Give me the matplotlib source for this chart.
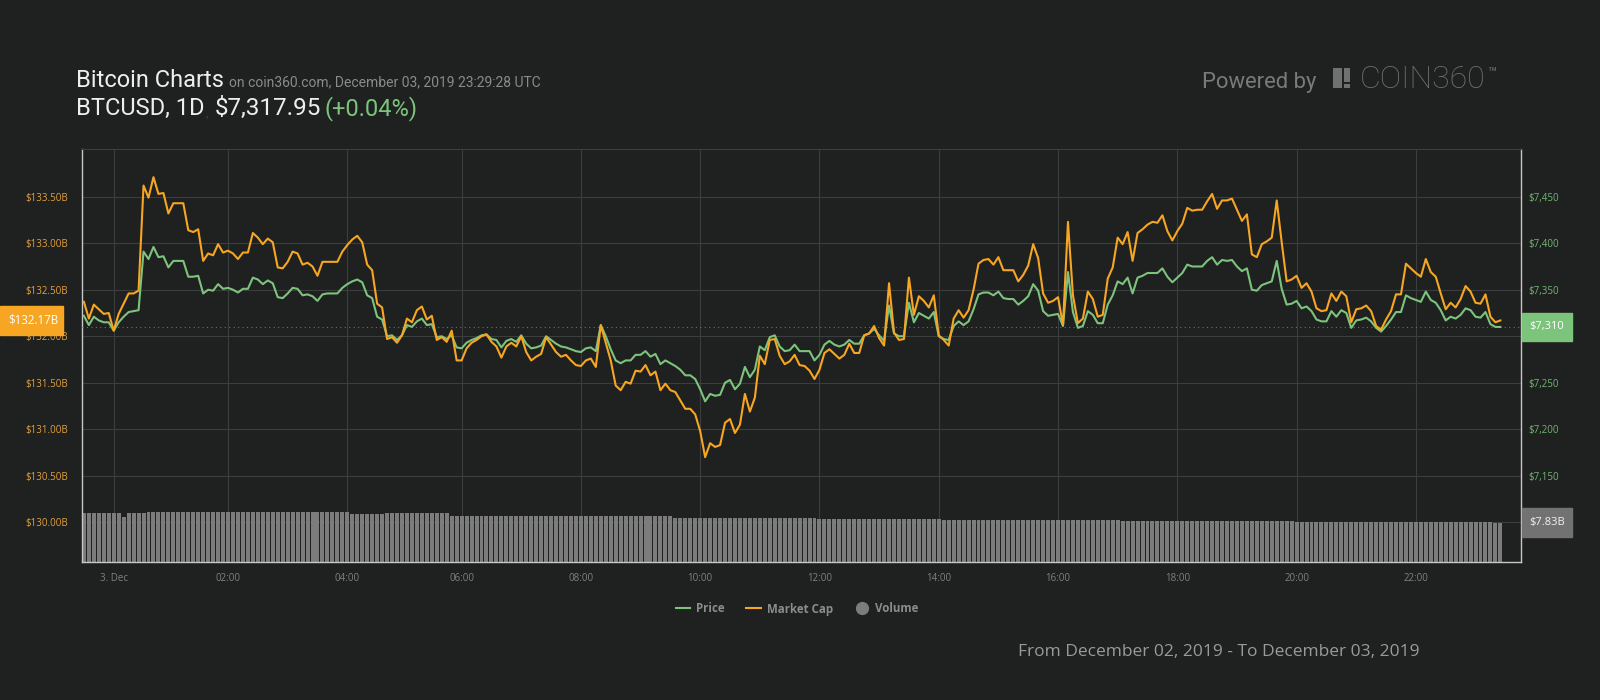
import numpy as np
import pandas as pd
import matplotlib
matplotlib.use("Agg")
import matplotlib.pyplot as plt
import matplotlib.transforms as mtransforms
from matplotlib.patches import Rectangle
from matplotlib.lines import Line2D

# ---------------- data ----------------
CAP_B = [
    132.37, 132.19, 132.34, 132.29, 132.24, 132.25, 132.06, 132.24, 132.35, 132.46,
    132.46, 132.49, 133.62, 133.49, 133.71, 133.53, 133.54, 133.32, 133.43, 133.43,
    133.43, 133.14, 133.12, 133.15, 132.81, 132.89, 132.87, 132.99, 132.90, 132.92,
    132.89, 132.83, 132.90, 132.90, 133.11, 133.06, 132.99, 133.05, 133.01, 132.74,
    132.73, 132.80, 132.91, 132.89, 132.77, 132.79, 132.75, 132.65, 132.80,
    132.80, 132.80, 132.80, 132.91, 132.98, 133.04, 133.08, 133.01, 132.77, 132.71,
    132.35, 132.31, 131.97, 131.99, 131.93, 132.01, 132.19, 132.15, 132.28, 132.32,
    132.18, 132.22, 131.96, 131.99, 131.94, 132.06, 131.74, 131.74, 131.87, 131.93,
    131.96, 132.00, 132.02, 131.94, 131.89, 131.77, 131.89, 131.93, 131.89, 132.00,
    131.83, 131.74, 131.78, 131.81, 131.99, 131.91, 131.83, 131.78,
    131.80, 131.74, 131.69, 131.68, 131.74, 131.76, 131.67, 132.12, 131.93, 131.74,
    131.47, 131.42, 131.51, 131.49, 131.63, 131.62, 131.69, 131.58, 131.62, 131.42,
    131.49, 131.42, 131.40, 131.31, 131.22, 131.22, 131.16, 130.98, 130.70, 130.85,
    130.81, 130.83, 131.07, 131.11, 130.96, 131.05, 131.38, 131.19, 131.34, 131.79,
    131.70, 131.96, 131.97, 131.79, 131.70, 131.73, 131.80, 131.69, 131.68,
    131.63, 131.54, 131.64, 131.82, 131.86, 131.81, 131.76, 131.80, 131.92, 131.82,
    131.82, 132.01, 132.03, 132.11, 131.98, 131.90, 132.57, 132.04, 131.96, 131.97,
    132.63, 132.23, 132.43, 132.38, 132.31, 132.44, 132.01, 131.96, 131.90, 132.19,
    132.28, 132.20, 132.28, 132.50, 132.78, 132.82, 132.83, 132.77, 132.85, 132.71,
    132.71, 132.71, 132.59, 132.66, 132.76, 132.99, 132.84, 132.46,
    132.36, 132.38, 132.42, 132.12, 133.23, 132.44, 132.14, 132.19, 132.48, 132.40,
    132.21, 132.23, 132.62, 132.74, 133.06, 132.99, 133.12, 132.81, 133.11, 133.15,
    133.20, 133.23, 133.22, 133.30, 133.13, 133.03, 133.13, 133.21, 133.38, 133.35,
    133.36, 133.36, 133.45, 133.53, 133.37, 133.46, 133.46, 133.48, 133.36, 133.24,
    133.31, 132.88, 132.85, 132.99, 133.02, 133.06, 133.46, 133.01,
    132.59, 132.61, 132.65, 132.52, 132.57, 132.48, 132.30, 132.27, 132.28, 132.46,
    132.38, 132.48, 132.43, 132.15, 132.29, 132.30, 132.33, 132.27, 132.11, 132.07,
    132.18, 132.27, 132.45, 132.45, 132.78, 132.73, 132.68, 132.64, 132.83, 132.69,
    132.64, 132.46, 132.29, 132.36, 132.31, 132.40, 132.54, 132.48, 132.36, 132.35,
    132.45, 132.21, 132.15, 132.17,
]

PRICE_USD = [
    7322, 7312, 7321, 7317, 7315, 7315, 7306, 7315, 7321, 7326,
    7327, 7328, 7391, 7383, 7396, 7385, 7386, 7374, 7381, 7381,
    7381, 7364, 7364, 7365, 7346, 7350, 7349, 7356, 7351, 7352,
    7350, 7347, 7351, 7351, 7363, 7361, 7356, 7360, 7357, 7342,
    7341, 7346, 7352, 7351, 7344, 7345, 7343, 7338, 7345,
    7346, 7346, 7346, 7352, 7356, 7359, 7361, 7358, 7344, 7341,
    7321, 7318, 7300, 7301, 7296, 7301, 7312, 7310, 7316, 7319,
    7312, 7313, 7299, 7300, 7297, 7301, 7288, 7287, 7293, 7296,
    7298, 7301, 7302, 7297, 7296, 7288, 7295, 7297, 7294, 7301,
    7292, 7287, 7288, 7290, 7300, 7296, 7292, 7289,
    7288, 7286, 7284, 7283, 7287, 7288, 7284, 7312, 7300, 7286,
    7274, 7271, 7274, 7274, 7280, 7280, 7284, 7278, 7281, 7270,
    7274, 7271, 7268, 7264, 7258, 7258, 7254, 7243, 7230, 7238,
    7236, 7237, 7250, 7253, 7243, 7249, 7267, 7256, 7264, 7289,
    7285, 7299, 7301, 7289, 7284, 7285, 7291, 7284, 7284,
    7284, 7274, 7280, 7291, 7295, 7291, 7289, 7291, 7296, 7292,
    7292, 7301, 7303, 7308, 7301, 7295, 7333, 7303, 7300, 7300,
    7336, 7315, 7325, 7322, 7319, 7326, 7300, 7297, 7296, 7311,
    7316, 7312, 7316, 7329, 7345, 7347, 7347, 7344, 7348, 7341,
    7340, 7340, 7334, 7338, 7343, 7356, 7349, 7327,
    7322, 7323, 7324, 7311, 7369, 7326, 7309, 7311, 7327, 7323,
    7314, 7314, 7334, 7344, 7359, 7356, 7363, 7346, 7363, 7365,
    7368, 7368, 7368, 7373, 7364, 7358, 7363, 7368, 7377, 7375,
    7375, 7375, 7381, 7385, 7377, 7382, 7381, 7382, 7375, 7370,
    7373, 7350, 7349, 7355, 7357, 7359, 7381, 7351,
    7334, 7335, 7338, 7330, 7332, 7327, 7318, 7316, 7316, 7327,
    7321, 7328, 7325, 7309, 7317, 7318, 7320, 7316, 7309, 7305,
    7311, 7318, 7326, 7326, 7344, 7341, 7339, 7337, 7348, 7339,
    7336, 7328, 7317, 7321, 7319, 7323, 7330, 7328, 7321, 7320,
    7326, 7313, 7310, 7310,
]

VOLUME_B = [
    9.70, 9.70, 9.70, 9.70, 9.70, 9.70, 9.70, 9.70, 9.03, 9.70, 9.70, 9.70, 9.70, 9.90, 9.90, 9.90, 9.90, 9.90, 9.90, 9.90,
    9.90, 9.90, 9.90, 9.90, 9.90, 9.90, 9.90, 9.90, 9.90, 9.90, 9.90, 9.90, 9.90, 9.90, 9.90, 9.90, 9.90, 9.90, 9.90, 9.90,
    9.90, 9.90, 9.90, 9.90, 9.90, 9.90, 9.90, 9.90, 9.90, 9.90, 9.90, 9.90, 9.90, 9.90, 9.63, 9.63, 9.63, 9.63, 9.63, 9.63,
    9.63, 9.83, 9.83, 9.83, 9.83, 9.83, 9.83, 9.83, 9.83, 9.83, 9.83, 9.83, 9.83, 9.83, 9.20, 9.20, 9.20, 9.20, 9.20, 9.20,
    9.20, 9.20, 9.20, 9.20, 9.20, 9.20, 9.20, 9.20, 9.20, 9.20, 9.20, 9.20, 9.20, 9.20, 9.20, 9.20, 9.20, 9.20, 9.20, 9.20,
    9.20, 9.20, 9.20, 9.20, 9.20, 9.20, 9.20, 9.20, 9.20, 9.20, 9.20, 9.20, 9.20, 9.20, 9.20, 9.20, 9.20, 9.20, 9.20, 8.77,
    8.77, 8.77, 8.77, 8.77, 8.77, 8.77, 8.77, 8.77, 8.77, 8.77, 8.77, 8.77, 8.77, 8.77, 8.77, 8.77, 8.77, 8.77, 8.77, 8.77,
    8.77, 8.77, 8.77, 8.77, 8.77, 8.77, 8.77, 8.77, 8.47, 8.47, 8.47, 8.47, 8.47, 8.47, 8.47, 8.47, 8.47, 8.47, 8.47, 8.47,
    8.47, 8.47, 8.47, 8.47, 8.47, 8.47, 8.47, 8.47, 8.47, 8.47, 8.47, 8.47, 8.47, 8.27, 8.27, 8.27, 8.27, 8.27, 8.27, 8.27,
    8.27, 8.27, 8.27, 8.27, 8.27, 8.27, 8.27, 8.27, 8.27, 8.27, 8.27, 8.27, 8.27, 8.27, 8.27, 8.27, 8.27, 8.27, 8.27, 8.27,
    8.27, 8.27, 8.27, 8.27, 8.27, 8.27, 8.27, 8.27, 8.27, 8.10, 8.10, 8.10, 8.10, 8.10, 8.10, 8.10, 8.10, 8.10, 8.10, 8.10,
    8.10, 8.10, 8.10, 8.10, 8.10, 8.10, 8.10, 8.10, 8.10, 8.10, 8.10, 8.10, 8.10, 8.10, 8.10, 8.10, 8.10, 8.10, 8.10, 8.10,
    8.10, 8.10, 8.10, 8.10, 7.92, 7.92, 7.92, 7.92, 7.92, 7.92, 7.92, 7.92, 7.92, 7.92, 7.92, 7.92, 7.92, 7.92, 7.92, 7.92,
    7.92, 7.92, 7.92, 7.92, 7.92, 7.92, 7.92, 7.92, 7.92, 7.92, 7.92, 7.92, 7.92, 7.92, 7.92, 7.92, 7.92, 7.92, 7.92, 7.92,
    8.05, 8.05, 8.05, 8.05, 7.86, 7.83,
]

# 5-minute samples; two samples are absent in the feed (ordinal axis, as in the reference)
TIMES = pd.date_range("2019-12-02 23:30", "2019-12-03 23:25", freq="5min")
MISSING_TIMES = pd.to_datetime(["2019-12-03 00:55", "2019-12-03 04:40"])
TIMES = TIMES.drop(MISSING_TIMES)
TICK_TIMES = pd.date_range("2019-12-03 00:00", "2019-12-03 22:00", freq="2h")
TICK_LABELS = ["3. Dec", "02:00", "04:00", "06:00", "08:00", "10:00",
               "12:00", "14:00", "16:00", "18:00", "20:00", "22:00"]
CAP_TICKS = [130.0, 130.5, 131.0, 131.5, 132.0, 132.5, 133.0, 133.5]
PRICE_TICKS = [7150, 7200, 7250, 7300, 7350, 7400, 7450]
LAST_CAP = 132.17
LAST_PRICE = 7310
LAST_VOLUME = 7.83

assert len(CAP_B) == len(PRICE_USD) == len(VOLUME_B) == len(TIMES)

# ---------------- style ----------------
BG = "#1f2020"
GRID = "#3c3d3d"
AXLINE = "#c8c8c8"
GREEN = "#7cc47c"
ORANGE = "#f6a623"
VOLC = "#7c7c7c"
W, H = 1600, 700
FONT = "Open Sans"
HFONT = "Roboto"

fig = plt.figure(figsize=(W / 100, H / 100), dpi=100, facecolor=BG)
pix = mtransforms.Affine2D().scale(1.0 / W, -1.0 / H).translate(0, 1) + fig.transFigure

L, R, T, B = 82, 1521, 149, 562
rect = [L / W, 1 - B / H, (R - L) / W, (B - T) / H]

ax_vol = fig.add_axes(rect, zorder=1)
ax_price = fig.add_axes(rect, zorder=2, sharex=ax_vol)
ax_cap = fig.add_axes(rect, zorder=3, sharex=ax_vol)
ax_vol.set_facecolor(BG)
for a in (ax_price, ax_cap):
    a.set_facecolor("none")
    for s in a.spines.values():
        s.set_visible(False)

x = np.arange(len(TIMES))
tick_idx = TIMES.get_indexer(TICK_TIMES)

ax_vol.set_xlim(-0.38, 289.15)
cap_lim = (129.573, 134.013)
price_lim = (7057.3, 7501.3)
vol_lim = (0, 82.3)
ax_cap.set_ylim(*cap_lim)
ax_price.set_ylim(*price_lim)
ax_vol.set_ylim(*vol_lim)

# grid (below volume bars)
hgrid_tr = mtransforms.blended_transform_factory(ax_vol.transAxes, ax_cap.transData)
for v in CAP_TICKS:
    ax_vol.plot([0, 1], [v, v], transform=hgrid_tr, color=GRID, lw=0.8, zorder=0)
ax_vol.set_xticks(tick_idx)
ax_vol.set_xticklabels(TICK_LABELS)
ax_vol.grid(axis="x", color=GRID, lw=0.8, zorder=0)
ax_vol.set_axisbelow(True)
ax_vol.set_yticks([])

# volume bars
ax_vol.bar(x, VOLUME_B, width=0.8, color=VOLC, linewidth=0, zorder=2)

# spines
for side in ("left", "bottom", "right"):
    ax_vol.spines[side].set_color(AXLINE)
    ax_vol.spines[side].set_linewidth(1.0)
ax_vol.spines["top"].set_color(GRID)
ax_vol.spines["top"].set_linewidth(0.8)

ax_vol.tick_params(axis="x", length=0, pad=8, labelsize=7, labelcolor="#808080")
for lab in ax_vol.get_xticklabels():
    lab.set_fontfamily(FONT)

# price line (right axis)
ax_price.plot(x, PRICE_USD, color=GREEN, lw=1.5, solid_joinstyle="round", zorder=3)
ax_price.axhline(LAST_PRICE, color="#6f6f6f", lw=0.8, ls=(0, (1, 3)), zorder=2)
ax_price.yaxis.tick_right()
ax_price.set_yticks(PRICE_TICKS)
ax_price.set_yticklabels([f"${v:,.0f}" for v in PRICE_TICKS])
ax_price.tick_params(axis="y", length=0, pad=5, labelsize=7, labelcolor="#74b574")
ax_price.tick_params(axis="x", length=0, labelbottom=False)
for lab in ax_price.get_yticklabels():
    lab.set_fontfamily(FONT)

# market cap line (left axis)
ax_cap.plot(x, CAP_B, color=ORANGE, lw=1.5, solid_joinstyle="round", zorder=3)
ax_cap.set_yticks(CAP_TICKS)
ax_cap.set_yticklabels([f"${v:.2f}B" for v in CAP_TICKS])
ax_cap.tick_params(axis="y", length=0, pad=10, labelsize=7, labelcolor="#e3a03c")
ax_cap.tick_params(axis="x", length=0, labelbottom=False)
for lab in ax_cap.get_yticklabels():
    lab.set_fontfamily(FONT)

# current value boxes
px_per_cap = (B - T) / (cap_lim[1] - cap_lim[0])
px_per_price = (B - T) / (price_lim[1] - price_lim[0])
px_per_vol = (B - T) / (vol_lim[1] - vol_lim[0])

tr_cap = mtransforms.blended_transform_factory(pix, ax_cap.transData)
h = 29.4 / px_per_cap
ax_cap.add_patch(Rectangle((0, LAST_CAP - h / 2), 63, h, transform=tr_cap,
                           color=ORANGE, clip_on=False, zorder=10))
ax_cap.text(33.5, LAST_CAP, f"${LAST_CAP:.2f}B", transform=tr_cap, ha="center", va="center",
            color="white", fontsize=8.3, family=FONT, clip_on=False, zorder=11)

tr_price = mtransforms.blended_transform_factory(pix, ax_price.transData)
h = 28.3 / px_per_price
ax_cap.add_patch(Rectangle((1522, LAST_PRICE - h / 2), 50, h, transform=tr_price,
                           color="#7cc37b", clip_on=False, zorder=10))
ax_cap.text(1529, LAST_PRICE, f"${LAST_PRICE:,.0f}", transform=tr_price, ha="left", va="center",
            color="white", fontsize=8, family=FONT, clip_on=False, zorder=11)

tr_vol = mtransforms.blended_transform_factory(pix, ax_vol.transData)
h = 29.3 / px_per_vol
ax_cap.add_patch(Rectangle((1522, LAST_VOLUME - h / 2), 50, h, transform=tr_vol,
                           color="#727272", clip_on=False, zorder=10))
ax_cap.text(1529, LAST_VOLUME, f"${LAST_VOLUME:.2f}B", transform=tr_vol, ha="left", va="center",
            color="#f2f2f2", fontsize=8, family=FONT, clip_on=False, zorder=11)

# ---------------- header ----------------
fig.text(76, 86.7, "Bitcoin Charts", transform=pix, ha="left", va="baseline",
         color="#eeeeee", fontsize=17, family=HFONT)
fig.text(229, 86.7, "on coin360.com, December 03, 2019 23:29:28 UTC", transform=pix,
         ha="left", va="baseline", color="#8a8a8a", fontsize=10, family=HFONT)
fig.text(76, 115, "BTCUSD, 1D", transform=pix, ha="left", va="baseline",
         color="#eeeeee", fontsize=17, family=HFONT)
fig.text(205.5, 116.5, ",", transform=pix, ha="left", va="baseline",
         color="#4a4a4a", fontsize=8, family=HFONT)
fig.text(215, 115, "$7,317.95", transform=pix, ha="left", va="baseline",
         color="#eeeeee", fontsize=17.5, family=HFONT)
fig.text(325, 115, "(+0.04%)", transform=pix, ha="left", va="baseline",
         color="#7cc47c", fontsize=17, family=HFONT)

LOGO = "#707070"
fig.text(1201.5, 88.3, "Powered by", transform=pix, ha="left", va="baseline",
         color="#7a7a7a", fontsize=15.8, family=HFONT)
fig.add_artist(Rectangle((1333, 68.3), 9.3, 20, transform=pix, color=LOGO, lw=0))
fig.add_artist(Rectangle((1344.3, 68.3), 5.7, 13.4, transform=pix, color=LOGO, lw=0))
fig.add_artist(Rectangle((1344.3, 83.6), 5.7, 4.7, transform=pix, color=LOGO, lw=0))
fig.text(1360, 88.3, "COIN360", transform=pix, ha="left", va="baseline",
         color=LOGO, fontsize=23, family=HFONT, fontweight="light")
fig.text(1487, 78, "\u2122", transform=pix, ha="left", va="baseline",
         color=LOGO, fontsize=11, family=HFONT)

# ---------------- legend ----------------
handles = [
    Line2D([], [], color=GREEN, lw=1.5),
    Line2D([], [], color=ORANGE, lw=1.5),
    Line2D([], [], color=VOLC, marker="o", ls="none", markersize=8.5),
]
fig.legend(handles, ["Price", "Market Cap", "Volume"], loc="center",
           bbox_to_anchor=(797 / W, 1 - 609 / H), ncol=3, frameon=False,
           prop={"family": FONT, "weight": "bold", "size": 8.3}, labelcolor="#8c8c8c",
           handlelength=1.25, handletextpad=0.5, columnspacing=1.9)

fig.text(1420, 652, "From December 02, 2019 - To December 03, 2019", transform=pix,
         ha="right", va="center", color="#9a9a9a", fontsize=12.5, family=FONT)

fig.savefig("out.png", dpi=100, facecolor=BG)
